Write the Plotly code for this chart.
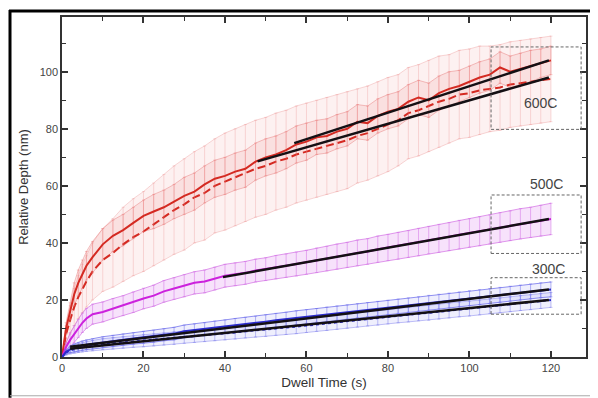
import plotly.graph_objects as go

# ---------------- data ----------------
t = [0, 1, 2, 3, 4, 5, 6, 7.5, 10, 12.5, 15, 17.5, 20, 22.5, 25, 27.5, 30, 32.5, 35, 37.5,
     40, 42.5, 45, 47.5, 50, 52.5, 55, 57.5, 60, 62.5, 65, 67.5, 70, 72.5, 75, 77.5, 80,
     82.5, 85, 87.5, 90, 92.5, 95, 97.5, 100, 102.5, 105, 107.5, 110, 112.5, 115, 117.5, 120]

red_solid = [0, 10, 16, 22, 26, 29, 32, 35, 39.5, 42.5, 44.5, 47, 49.5, 51, 52.5, 54.5, 56.5, 58,
             60.5, 62.5, 63.5, 65, 66, 68.5, 70, 71, 72.5, 74.5, 75.5, 77, 77.5, 79, 80, 82.5, 82,
             84.5, 86, 87, 89.5, 91, 90, 92.5, 94, 95, 96.5, 98, 99, 101.5, 100, 101, 102, 103, 104]
red_solid_err = [0, 2, 3, 4, 4.5, 5, 5, 5.5, 5.5, 5.5, 5.5, 5.5, 5.5, 6, 6, 6, 6.5, 6.5, 6.5, 6.5,
                 6.5, 6.5, 6.5, 6.5, 6.5, 6.5, 6.5, 6.5, 6.5, 6, 6, 6, 6, 6, 6, 6, 6, 6, 6, 6,
                 6, 6, 6, 5.5, 5.5, 5.5, 5.5, 5.5, 5.5, 5.5, 5.5, 5, 5]

red_dash = [0, 8, 13, 17.5, 21, 24, 26.5, 30, 34, 36.5, 39.5, 42, 44, 46.5, 49, 51.5, 53.5, 56,
            57.5, 60, 61.5, 63, 64.5, 66, 67, 68.5, 69.5, 71, 72, 73, 74, 75, 76, 77.5, 78.5, 80,
            81.5, 83, 85.5, 86.5, 88, 89.5, 90.5, 92, 92.5, 93.5, 94, 94.5, 95.5, 96, 96.5, 97, 97.5]
red_dash_err = [0, 3, 5, 6.5, 7.5, 8.5, 9, 10, 11, 12, 13, 13.5, 14, 14.5, 15, 15.5, 16, 16, 16.5,
                16.5, 17, 17, 17, 17, 17, 17, 17, 17, 17, 17, 17, 17, 17, 16.5, 16.5, 16.5, 16.5,
                16, 16, 16, 16, 16, 15.5, 15.5, 15.5, 15.5, 15, 15, 15, 15, 15, 15, 15]

mag = [0, 3.5, 6, 8, 10, 12, 13.5, 15, 15.8, 17, 18, 19.2, 20.5, 21.5, 23, 24, 25, 26, 26.5,
       27.5, 28.5, 29, 29.5, 30.3, 30.8, 31.5, 32, 32.6, 33.2, 33.9, 34.5, 35.2, 35.8, 36.5, 37,
       37.8, 38.4, 39, 39.6, 40.3, 41, 41.6, 42.2, 42.9, 43.5, 44.1, 44.7, 45.4, 46, 46.7, 47.2,
       47.8, 48.4]
mag_err = [0, 1.5, 2.5, 3, 3.2, 3.4, 3.5, 3.5, 3.5, 3.5, 3.5, 3.6, 3.6, 3.7, 3.8, 3.8, 3.9, 3.9,
           4, 4, 4, 4, 4, 4, 4, 4.1, 4.1, 4.2, 4.2, 4.3, 4.3, 4.4, 4.4, 4.5, 4.5, 4.6, 4.6, 4.7,
           4.7, 4.8, 4.8, 4.9, 4.9, 5, 5, 5.1, 5.1, 5.2, 5.2, 5.3, 5.3, 5.4, 5.5]

blue_solid = [0, 1.8, 2.7, 3.2, 3.6, 4, 4.3, 4.6, 5.2, 5.6, 6.1, 6.5, 6.9, 7.3, 7.8, 8.2, 9,
              9.4, 9.8, 10.3, 10.7, 11.2, 11.6, 12, 12.4, 12.9, 13.3, 13.8, 14.2, 14.6, 15, 15.4,
              15.8, 16.2, 16.6, 17, 17.4, 17.8, 18.2, 18.6, 19, 19.4, 19.8, 20.2, 20.6, 21, 21.4,
              21.8, 22.2, 22.6, 23, 23.4, 23.7]
blue_dash = [0, 1.5, 2.3, 2.8, 3.1, 3.4, 3.7, 4, 4.5, 4.8, 5.1, 5.4, 5.7, 6, 6.3, 6.6, 7, 7.3,
             7.6, 8, 8.3, 8.6, 9, 9.3, 9.6, 10, 10.3, 10.6, 11, 11.4, 11.8, 12.2, 12.6, 13, 13.4,
             13.7, 14.1, 14.5, 14.8, 15.2, 15.5, 15.9, 16.3, 16.7, 17, 17.4, 17.8, 18.1, 18.5,
             18.9, 19.2, 19.6, 20]
blue_err = [0, 0.8, 1.2, 1.4, 1.5, 1.6, 1.7, 1.8, 1.9, 2, 2, 2, 2.1, 2.1, 2.1, 2.2, 2.2, 2.2,
            2.2, 2.3, 2.3, 2.3, 2.3, 2.3, 2.4, 2.4, 2.4, 2.4, 2.4, 2.4, 2.5, 2.5, 2.5, 2.5, 2.5,
            2.5, 2.5, 2.5, 2.5, 2.5, 2.6, 2.6, 2.6, 2.6, 2.6, 2.6, 2.6, 2.6, 2.6, 2.6, 2.6, 2.6, 2.6]

# linear fits (start/end)
fit600_hi_t, fit600_hi_d = [57, 119.5], [75, 104]
fit600_lo_t, fit600_lo_d = [48, 119.5], [68.6, 98]
fit500_t, fit500_d = [39.5, 119.5], [28, 48.4]
fit300_hi_t, fit300_hi_d = [2, 119.5], [3.6, 23.7]
fit300_lo_t, fit300_lo_d = [2, 119.5], [2.9, 20]

labels = ["600C", "500C", "300C"]
label_pos = [(117.5, 89), (119, 60.7), (119.5, 30.7)]
boxes = [(105.3, 127.4, 79.8, 108.7), (105.3, 127.4, 36.3, 56.8), (105.3, 127.4, 15.0, 27.8)]

# ---------------- figure ----------------
fig = go.Figure()


def add_band(y, err, fillcolor, edgecolor):
    up = [a + b for a, b in zip(y, err)]
    lo = [a - b for a, b in zip(y, err)]
    fig.add_trace(go.Scatter(x=t, y=up, mode="lines", line=dict(color=edgecolor, width=1),
                             showlegend=False, hoverinfo="skip"))
    fig.add_trace(go.Scatter(x=t, y=lo, mode="lines", line=dict(color=edgecolor, width=1),
                             fill="tonexty", fillcolor=fillcolor,
                             showlegend=False, hoverinfo="skip"))


def add_series(y, err, color, ecolor, dash="solid", width=2):
    fig.add_trace(go.Scatter(
        x=t, y=y, mode="lines",
        line=dict(color=color, width=width, dash=dash),
        error_y=dict(type="data", array=err, visible=True, color=ecolor, thickness=1, width=1.5),
        showlegend=False, hoverinfo="skip"))


add_band(red_dash, red_dash_err, "rgba(240,170,170,0.16)", "rgba(235,140,140,0.35)")
add_band(red_solid, red_solid_err, "rgba(240,150,150,0.18)", "rgba(230,120,120,0.45)")
add_band(mag, mag_err, "rgba(225,140,240,0.25)", "rgba(205,90,225,0.6)")
add_band(blue_dash, blue_err, "rgba(150,150,240,0.15)", "rgba(140,140,240,0.55)")
add_band(blue_solid, blue_err, "rgba(150,150,240,0.15)", "rgba(100,100,235,0.7)")

add_series(red_dash, red_dash_err, "#d42a22", "rgba(235,140,140,0.3)", dash="8px,4px")
add_series(red_solid, red_solid_err, "#d42a22", "rgba(235,120,120,0.4)")
add_series(mag, mag_err, "#cc22dd", "rgba(210,110,230,0.5)")
add_series(blue_dash, blue_err, "#2a2acc", "rgba(130,130,235,0.5)", dash="dot")
add_series(blue_solid, blue_err, "#2a2acc", "rgba(110,110,235,0.5)")

for ft, fd in [(fit600_hi_t, fit600_hi_d), (fit600_lo_t, fit600_lo_d), (fit500_t, fit500_d),
               (fit300_hi_t, fit300_hi_d), (fit300_lo_t, fit300_lo_d)]:
    fig.add_trace(go.Scatter(x=ft, y=fd, mode="lines", line=dict(color="#141014", width=2.5),
                             showlegend=False, hoverinfo="skip"))

shapes = []
for (x0, x1, y0, y1) in boxes:
    shapes.append(dict(type="rect", xref="x", yref="y", x0=x0, x1=x1, y0=y0, y1=y1,
                       line=dict(color="#666666", width=1, dash="3px,2px")))

# outer picture frame, positions in screen pixels mapped to paper coords
W, L = 524.0, 62.0
H, BOT = 342.0, 357.0


def px(xp):
    return (xp - L) / W


def py(yp):
    return (BOT - yp) / H


shapes += [
    dict(type="line", xref="paper", yref="paper", x0=px(10), x1=px(10), y0=py(8), y1=py(398),
         line=dict(color="#000000", width=3)),
    dict(type="line", xref="paper", yref="paper", x0=px(9), x1=px(598), y0=py(9), y1=py(9),
         line=dict(color="#000000", width=3)),
    dict(type="line", xref="paper", yref="paper", x0=px(10), x1=px(598), y0=py(396), y1=py(396),
         line=dict(color="#aaaaaa", width=1)),
    dict(type="line", xref="paper", yref="paper", x0=px(596), x1=px(596), y0=py(9), y1=py(398),
         line=dict(color="#bbbbbb", width=1)),
]

annotations = [dict(x=x, y=y, xref="x", yref="y", text=s, showarrow=False,
                    font=dict(size=14, color="#444444", family="Liberation Sans"))
               for s, (x, y) in zip(labels, label_pos)]

axis_common = dict(showline=True, linecolor="#333333", linewidth=1.5, mirror="ticks",
                   ticks="inside", ticklen=6, tickwidth=1.5, tickcolor="#333333",
                   showgrid=False, zeroline=False,
                   tickfont=dict(size=11, color="#444444", family="Liberation Sans"))

# the page body has an 8px margin, so the figure is 8px smaller and margins shifted
fig.update_layout(
    width=590, height=390,
    margin=dict(l=54, r=12, t=7, b=41),
    paper_bgcolor="white", plot_bgcolor="white",
    font=dict(family="Liberation Sans", color="#333333"),
    xaxis=dict(range=[0, 128.6], dtick=20, tick0=0,
               minor=dict(ticks="inside", ticklen=4, dtick=10, tickcolor="#333333", tickwidth=1.2),
               title=dict(text="Dwell Time (s)", font=dict(size=13.5, color="#333333"), standoff=5),
               **axis_common),
    yaxis=dict(range=[0, 119.2], dtick=20, tick0=0,
               minor=dict(ticks="inside", ticklen=4, dtick=10, tickcolor="#333333", tickwidth=1.2),
               title=dict(text="Relative Depth (nm)", font=dict(size=13, color="#333333"), standoff=8),
               **axis_common),
    shapes=shapes,
    annotations=annotations,
)

fig.write_html("out.html")
